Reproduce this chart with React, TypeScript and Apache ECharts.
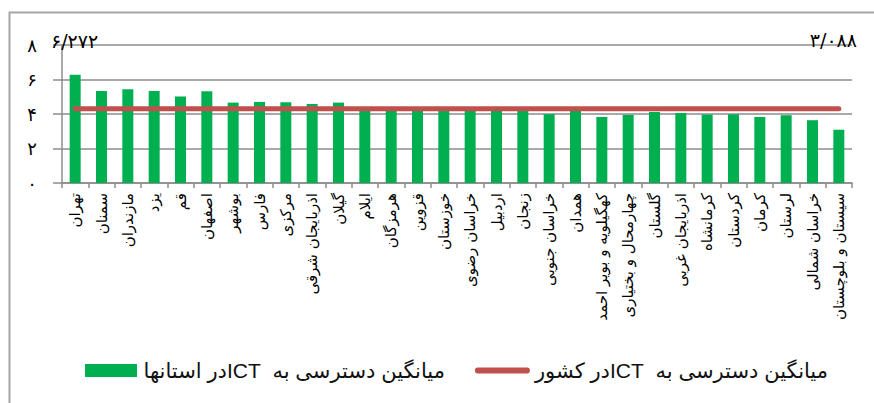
import React, { useEffect, useRef } from "react";
import * as echarts from "echarts";

const provinces: string[] = [
  "تهران", "سمنان", "مازندران", "یزد", "قم", "اصفهان", "بوشهر", "فارس", "مرکزی",
  "اذربایجان شرقی", "گیلان", "ایلام", "هرمزگان", "قزوین", "خوزستان", "خراسان رضوی",
  "اردبیل", "زنجان", "خراسان جنوبی", "همدان", "کهگیلویه و بویر احمد",
  "چهارمحال و بختیاری", "گلستان", "اذربایجان غربی", "کرمانشاه", "کردستان", "کرمان",
  "لرستان", "خراسان شمالی", "سیستان و بلوچستان",
];

const provinceAccess: number[] = [
  6.272, 5.33, 5.43, 5.33, 5.01, 5.32, 4.66, 4.70, 4.68,
  4.58, 4.66, 4.36, 4.33, 4.31, 4.29, 4.27,
  4.25, 4.22, 3.99, 4.18, 3.83,
  3.95, 4.12, 4.06, 3.97, 3.98, 3.83,
  3.93, 3.64, 3.088,
];

const nationalAverage = 4.3;

const barSeriesName = "میانگین دسترسی به  ICTدر استانها";
const lineSeriesName = "میانگین دسترسی به  ICTدر کشور";

const maxValueLabel = "۶/۲۷۲";
const minValueLabel = "۳/۰۸۸";

const faDigits = "۰۱۲۳۴۵۶۷۸۹";
const toFa = (v: number | string) =>
  String(v).replace(/[0-9]/g, (d) => faDigits[Number(d)]);

const FA_FONT = "'DejaVu Sans', 'Noto Sans', sans-serif";

export default function App() {
  const ref = useRef<HTMLDivElement>(null);

  useEffect(() => {
    document.body.style.margin = "0";
    if (!ref.current) return;
    const chart = echarts.init(ref.current, undefined, { renderer: "svg" });
    const nationalLine = provinces.map(() => nationalAverage);

    chart.setOption({
      animation: false,
      backgroundColor: "#ffffff",
      grid: { left: 62, right: 22, top: 45, bottom: 220, containLabel: false },
      legend: {
        left: 80,
        top: 355,
        itemGap: 30,
        itemWidth: 55,
        itemHeight: 13,
        textStyle: { fontSize: 21, color: "#111", fontFamily: "'Liberation Sans', 'DejaVu Sans', sans-serif" },
        formatter: (name: string) => "\u202B" + name + "\u202C",
        data: [
          { name: barSeriesName, icon: "path://M0,0 H52 V13 H0 Z", itemStyle: { color: "#00B050" } },
          {
            name: lineSeriesName,
            icon: "path://M3,0 H54 A3,3 0 0 1 54,6 H3 A3,3 0 0 1 3,0 Z",
            itemStyle: { color: "#C0504D" },
          },
        ],
      },
      xAxis: {
        type: "category",
        data: provinces,
        boundaryGap: true,
        axisLine: { show: true, lineStyle: { color: "#8c8c8c", width: 1.5 } },
        axisTick: { show: true, length: 5, lineStyle: { color: "#8c8c8c", width: 1.5 } },
        axisLabel: {
          interval: 0,
          rotate: 90,
          margin: 10,
          fontSize: 15,
          color: "#000",
          fontFamily: FA_FONT,
          padding: [10, 0, 0, 0],
        },
        splitLine: { show: false },
      },
      yAxis: {
        type: "value",
        min: 0,
        max: 8,
        interval: 2,
        axisLine: { show: true, lineStyle: { color: "#8c8c8c", width: 1.5 } },
        axisTick: { show: true, length: 9, lineStyle: { color: "#8c8c8c", width: 1.5 } },
        axisLabel: {
          margin: 25,
          fontSize: 18,
          color: "#000",
          fontFamily: FA_FONT,
          formatter: (v: number) => toFa(v),
        },
        splitLine: { show: true, lineStyle: { color: "#8c8c8c", width: 1.5 } },
      },
      series: [
        {
          name: barSeriesName,
          type: "bar",
          data: provinceAccess,
          barWidth: 11,
          itemStyle: { color: "#00B050" },
          z: 2,
        },
        {
          name: lineSeriesName,
          type: "line",
          data: nationalLine,
          symbol: "none",
          lineStyle: { color: "#C0504D", width: 5, cap: "round" },
          itemStyle: { color: "#C0504D" },
          z: 3,
        },
      ],
      graphic: [
        {
          type: "rect",
          shape: { x: 9.5, y: 12.5, width: 900, height: 500 },
          style: { fill: "none", stroke: "#a6a6a6", lineWidth: 2 },
          silent: true,
          z: 0,
        },
        {
          type: "text",
          left: 51,
          top: 31,
          style: { text: maxValueLabel, fontSize: 19, fill: "#000", fontFamily: FA_FONT },
          z: 10,
        },
        {
          type: "text",
          right: 17,
          top: 30,
          style: { text: minValueLabel, fontSize: 19, fill: "#000", fontFamily: FA_FONT },
          z: 10,
        },
      ],
    });

    return () => chart.dispose();
  }, []);

  return <div ref={ref} style={{ width: 874, height: 403 }} />;
}
